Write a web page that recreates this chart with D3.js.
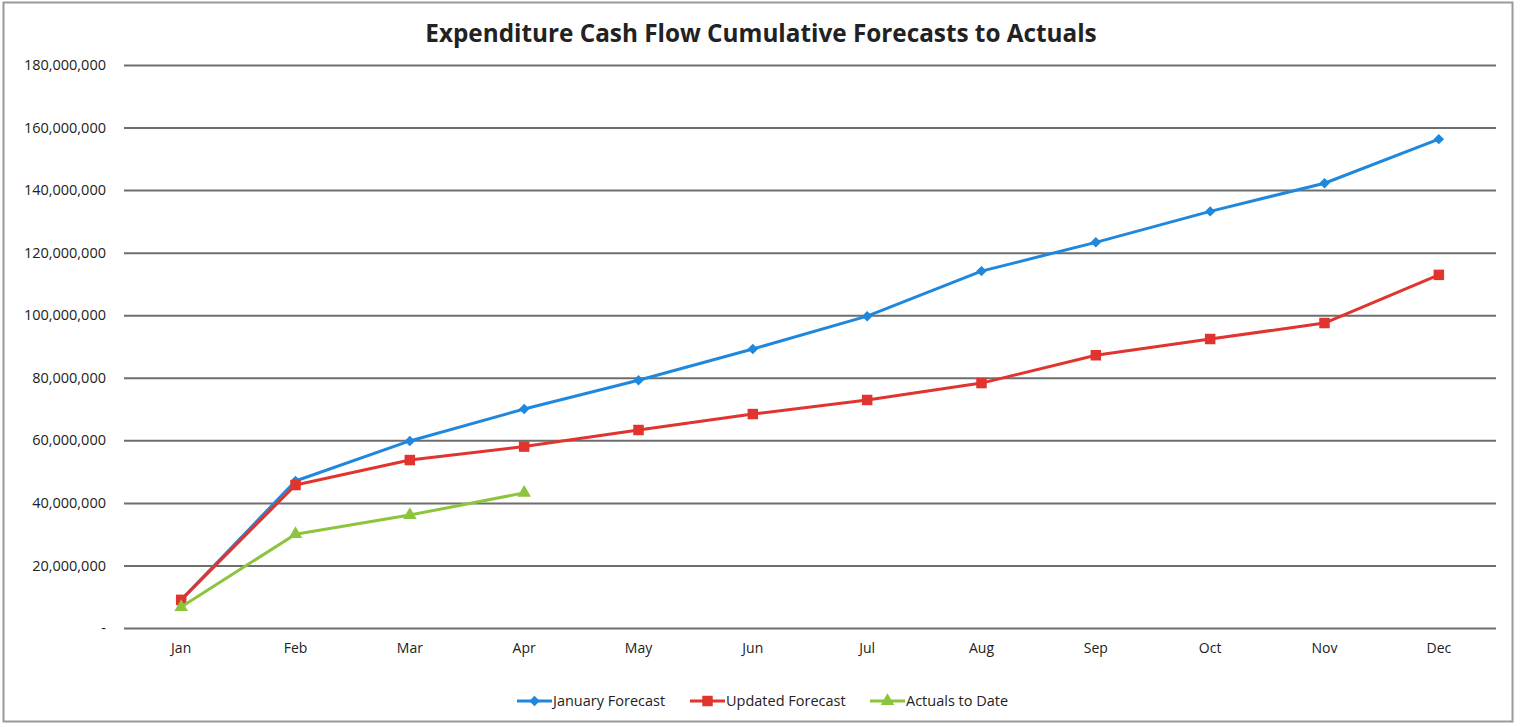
<!DOCTYPE html>
<html>
<head>
<meta charset="utf-8">
<script src="https://cdn.jsdelivr.net/npm/d3@7/dist/d3.min.js"></script>
<style>
  html, body { margin: 0; padding: 0; background: #fff; }
  svg { display: block; }
</style>
</head>
<body>
<svg id="chart" width="1522" height="727"></svg>
<script>
// Monthly categories and cumulative expenditure series
const months = ["Jan", "Feb", "Mar", "Apr", "May", "Jun", "Jul", "Aug", "Sep", "Oct", "Nov", "Dec"];
const januaryForecast = [9000000, 47000000, 59800000, 70000000, 79200000, 89200000, 99700000, 114100000, 123300000, 133200000, 142200000, 156300000];
const updatedForecast = [9000000, 45700000, 53700000, 58000000, 63300000, 68400000, 72900000, 78300000, 87200000, 92400000, 97500000, 112900000];
const actualsToDate = [6700000, 30000000, 36100000, 43200000];
const yTicks = [0, 20000000, 40000000, 60000000, 80000000, 100000000, 120000000, 140000000, 160000000, 180000000];
const seriesNames = ["January Forecast", "Updated Forecast", "Actuals to Date"];

const svg = d3.select("#chart");
const font = "'Open Sans', 'Liberation Sans', sans-serif";

// outer chart frame
svg.append("rect").attr("x", 3.5).attr("y", 2.5).attr("width", 1509).attr("height", 719)
  .attr("fill", "#fff").attr("stroke", "#9a9a9a").attr("stroke-width", 2);

const plot = { left: 124, right: 1496, top: 65, bottom: 628 };

const x = d3.scaleBand().domain(months).range([plot.left, plot.right]);
const y = d3.scaleLinear().domain([0, 180000000]).range([plot.bottom, plot.top]);
const cx = m => x(m) + x.bandwidth() / 2;

// title
svg.append("text").attr("x", 761).attr("y", 42).attr("text-anchor", "middle")
  .attr("font-family", font).attr("font-weight", "bold").attr("font-size", 24.3)
  .attr("fill", "#222").text("Expenditure Cash Flow Cumulative Forecasts to Actuals");

// horizontal gridlines + y axis labels
const yAxis = d3.axisLeft(y).tickValues(yTicks)
  .tickSize(-(plot.right - plot.left)).tickPadding(18)
  .tickFormat(v => v === 0 ? "-" : d3.format(",")(v));
const gy = svg.append("g").attr("transform", `translate(${plot.left},0)`).call(yAxis);
gy.select(".domain").remove();
gy.selectAll(".tick line").attr("stroke", "#6e6e6e").attr("stroke-width", 2);
gy.selectAll(".tick text").attr("font-family", font).attr("font-size", 14.5).attr("fill", "#222");

// x axis labels
const xAxis = d3.axisBottom(x).tickSize(0).tickPadding(15);
const gx = svg.append("g").attr("transform", `translate(0,${plot.bottom})`).call(xAxis);
gx.select(".domain").remove();
gx.selectAll(".tick text").attr("font-family", font).attr("font-size", 14).attr("fill", "#222");

const colors = ["#1f87dc", "#e0342e", "#8cc43c"];
const shapes = [d3.symbolSquare, d3.symbolSquare, d3.symbolTriangle];
const sizes = [55, 110, 80];
const rotations = [45, 0, 0];

const line = d3.line().x((d, i) => cx(months[i])).y(d => y(d));
const seriesData = [januaryForecast, updatedForecast, actualsToDate];

seriesData.forEach((vals, s) => {
  svg.append("path").datum(vals).attr("d", line)
    .attr("fill", "none").attr("stroke", colors[s]).attr("stroke-width", 3)
    .attr("stroke-linejoin", "round");
  svg.selectAll(null).data(vals).enter().append("path")
    .attr("d", d3.symbol().type(shapes[s]).size(sizes[s]))
    .attr("transform", (d, i) => `translate(${cx(months[i])},${y(d)}) rotate(${rotations[s]})`)
    .attr("fill", colors[s]);
});

// legend
const legendItems = [
  { x: 517, name: seriesNames[0] },
  { x: 690, name: seriesNames[1] },
  { x: 870, name: seriesNames[2] }
];
const ly = 701;
const keyLen = 35;
legendItems.forEach((it, s) => {
  const g = svg.append("g");
  g.append("line").attr("x1", it.x).attr("x2", it.x + keyLen).attr("y1", ly).attr("y2", ly)
    .attr("stroke", colors[s]).attr("stroke-width", 3);
  g.append("path").attr("d", d3.symbol().type(shapes[s]).size(sizes[s]))
    .attr("transform", `translate(${it.x + keyLen / 2},${ly}) rotate(${rotations[s]})`).attr("fill", colors[s]);
  g.append("text").attr("x", it.x + keyLen + 1).attr("y", ly + 5)
    .attr("font-family", font).attr("font-size", 14.5).attr("fill", "#222").text(it.name);
});
</script>
</body>
</html>
